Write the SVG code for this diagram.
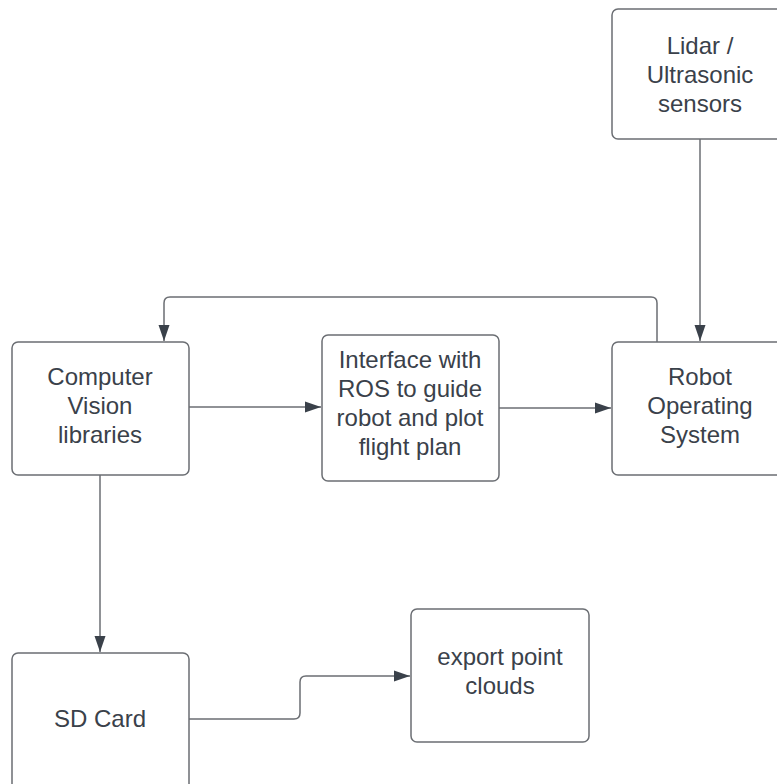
<svg xmlns="http://www.w3.org/2000/svg" width="777" height="784" viewBox="0 0 777 784">
<defs>
<style>
.box{fill:#ffffff;stroke:#6b6e73;stroke-width:1.5}
.t{font-family:"Liberation Sans",Arial,sans-serif;font-size:24px;fill:#3a414a;text-anchor:middle}
.c{fill:none;stroke:#6b6e73;stroke-width:1.5}
</style>
<marker id="ah" markerWidth="16" markerHeight="12" refX="16" refY="6" orient="auto" markerUnits="userSpaceOnUse">
<path d="M0,0.5 L16,6 L0,11.5 Z" fill="#3a414a"/>
</marker>
</defs>
<rect width="777" height="784" fill="#ffffff"/>
<g id="connectors">
<path class="c" d="M700,139 L700,341" marker-end="url(#ah)"/>
<path class="c" d="M657,342 L657,303 Q657,297 651,297 L170,297 Q164,297 164,303 L164,341" marker-end="url(#ah)"/>
<path class="c" d="M189,407 L321,407" marker-end="url(#ah)"/>
<path class="c" d="M499,408 L611,408" marker-end="url(#ah)"/>
<path class="c" d="M100,475 L100,652" marker-end="url(#ah)"/>
<path class="c" d="M189,719 L294,719 Q300,719 300,713 L300,682 Q300,676 306,676 L410,676" marker-end="url(#ah)"/>
</g>
<g id="lidar">
<rect class="box" x="612" y="9" width="177" height="130" rx="6"/>
<text class="t" x="700" y="54">Lidar /</text>
<text class="t" x="700" y="83">Ultrasonic</text>
<text class="t" x="700" y="112">sensors</text>
</g>
<g id="cv">
<rect class="box" x="12" y="342" width="177" height="133" rx="6"/>
<text class="t" x="100" y="385">Computer</text>
<text class="t" x="100" y="414">Vision</text>
<text class="t" x="100" y="443">libraries</text>
</g>
<g id="interface">
<rect class="box" x="322" y="335" width="177" height="146" rx="6"/>
<text class="t" x="410" y="368">Interface with</text>
<text class="t" x="410" y="397">ROS to guide</text>
<text class="t" x="410" y="426">robot and plot</text>
<text class="t" x="410" y="455">flight plan</text>
</g>
<g id="ros">
<rect class="box" x="612" y="342" width="177" height="133" rx="6"/>
<text class="t" x="700" y="385">Robot</text>
<text class="t" x="700" y="414">Operating</text>
<text class="t" x="700" y="443">System</text>
</g>
<g id="sdcard">
<rect class="box" x="12" y="653" width="177" height="140" rx="6"/>
<text class="t" x="100" y="727">SD Card</text>
</g>
<g id="export">
<rect class="box" x="411" y="609" width="178" height="133" rx="6"/>
<text class="t" x="500" y="665">export point</text>
<text class="t" x="500" y="694">clouds</text>
</g>
</svg>
